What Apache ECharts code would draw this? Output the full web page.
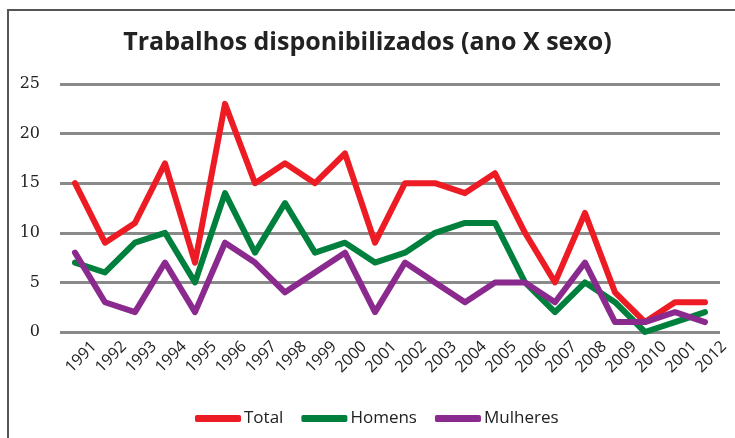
<!DOCTYPE html>
<html>
<head>
<meta charset="utf-8">
<script src="https://cdn.jsdelivr.net/npm/echarts@6/dist/echarts.min.js"></script>
<style>
html, body { margin: 0; padding: 0; background: #fff; }
#chart { width: 735px; height: 438px; }
</style>
</head>
<body>
<div id="chart"></div>
<script>
// anos (o "2001" depois de 2010 está assim no original)
const anos = ["1991", "1992", "1993", "1994", "1995", "1996", "1997", "1998", "1999", "2000",
	"2001", "2002", "2003", "2004", "2005", "2006", "2007", "2008", "2009", "2010", "2001", "2012"];
const total = [15, 9, 11, 17, 7, 23, 15, 17, 15, 18, 9, 15, 15, 14, 16, 10, 5, 12, 4, 1, 3, 3];
const homens = [7, 6, 9, 10, 5, 14, 8, 13, 8, 9, 7, 8, 10, 11, 11, 5, 2, 5, 3, 0, 1, 2];
const mulheres = [8, 3, 2, 7, 2, 9, 7, 4, 6, 8, 2, 7, 5, 3, 5, 5, 3, 7, 1, 1, 2, 1];
const yTicks = [0, 5, 10, 15, 20, 25];

const sans = "'Open Sans', sans-serif";

const series = [
	{ name: "Total", data: total, color: "#ED1C24" },
	{ name: "Homens", data: homens, color: "#00803C" },
	{ name: "Mulheres", data: mulheres, color: "#8B2A8E" },
].map(s => ({
	type: "line",
	name: s.name,
	data: s.data,
	symbol: "none",
	color: s.color,
	lineStyle: { width: 6, color: s.color, join: "round", cap: "round" },
}));

const option = {
	animation: false,
	backgroundColor: "#fff",
	graphic: [
		{
			type: "rect",
			shape: { x: 8, y: 10, width: 760, height: 460 },
			style: { fill: null, stroke: "#555", lineWidth: 2 },
			silent: true,
		},
	],
	title: {
		text: "Trabalhos disponibilizados (ano X sexo)",
		left: "center",
		top: 25,
		textStyle: {
			fontFamily: sans,
			fontWeight: "bold",
			fontSize: 25,
			color: "#222",
		},
	},
	legend: {
		top: 405,
		left: 190,
		itemWidth: 46,
		itemHeight: 7,
		itemGap: 18,
		icon: "roundRect",
		textStyle: { fontFamily: sans, fontSize: 17, color: "#222", padding: [0, 0, 0, -2] },
		data: ["Total", "Homens", "Mulheres"],
	},
	grid: { left: 60, right: 15, top: 84, bottom: 106, containLabel: false, outerBoundsMode: "none" },
	xAxis: {
		type: "category",
		data: anos,
		boundaryGap: true,
		axisLine: { show: false },
		axisTick: { show: false },
		axisLabel: {
			rotate: 45,
			interval: 0,
			margin: -7,
			verticalAlign: "top",
			lineHeight: 54,
			fontFamily: sans,
			fontSize: 16,
			color: "#222",
		},
	},
	yAxis: {
		type: "value",
		min: yTicks[0],
		max: yTicks[yTicks.length - 1],
		interval: 5,
		axisLine: { show: false },
		axisTick: { show: false },
		axisLabel: { margin: 20, fontFamily: "'DejaVu Serif', serif", fontSize: 16, color: "#222" },
		splitLine: { lineStyle: { color: "#8a8a8a", width: 3 } },
	},
	series: series,
};

const myEcharts = echarts.init(document.getElementById("chart"));
myEcharts.setOption(option);
</script>
</body>
</html>
